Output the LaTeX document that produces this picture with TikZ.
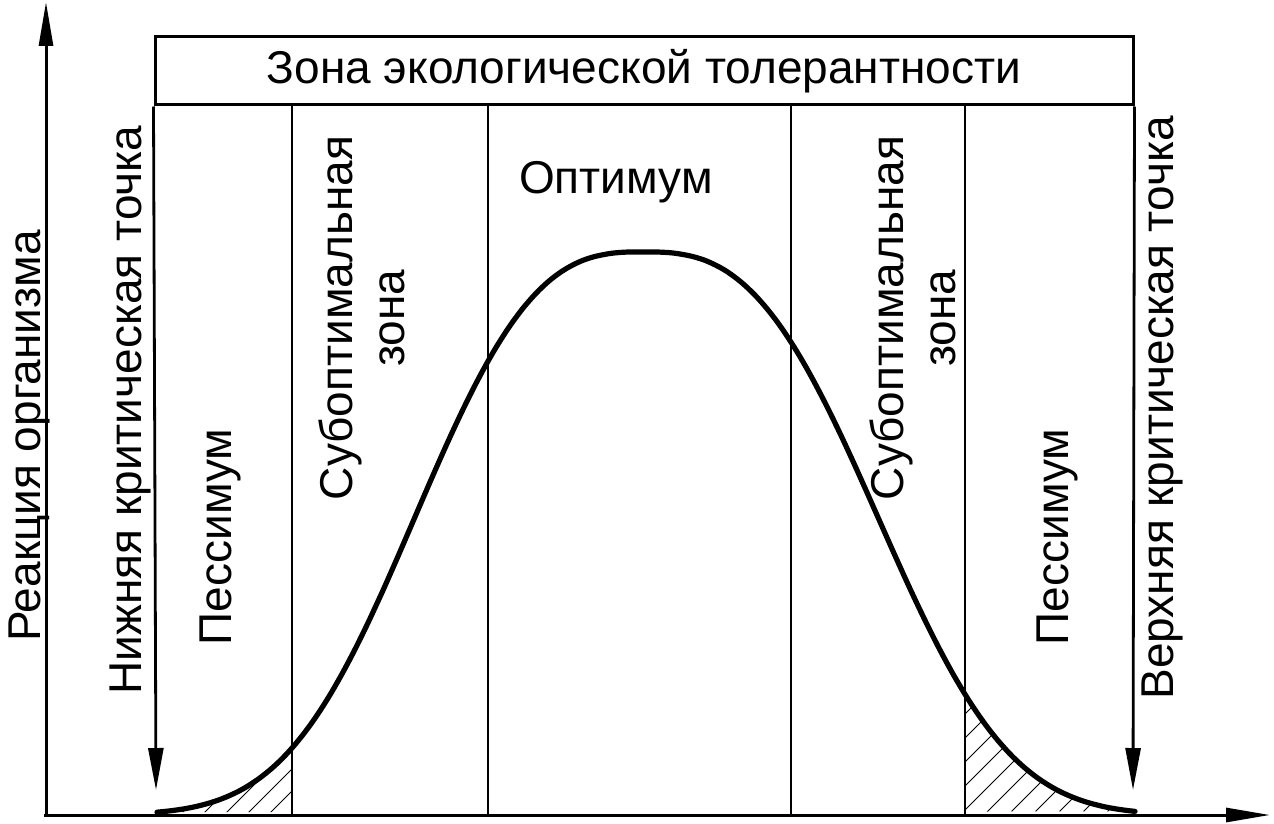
\documentclass[tikz,border=0pt]{standalone}
\usepackage{fontspec}
\setmainfont{Liberation Sans}
\usetikzlibrary{arrows.meta}
\begin{document}
\begin{tikzpicture}[x=0.5pt,y=-0.5pt,
  lbl/.style={font=\fontsize{23}{26}\selectfont, inner sep=0pt, align=center},
  vlbl/.style={lbl, rotate=90},
  axisline/.style={line width=1.5pt, -{Triangle[length=22pt,width=7pt]}},
  zline/.style={line width=1.4pt},
  crit/.style={line width=1.4pt, -{Triangle[length=21pt,width=7.5pt]}},
  bell/.style={line width=2.6pt, line join=round, line cap=round},
  hatchline/.style={line width=0.5pt}]

\useasboundingbox (0,0) rectangle (1274,824);

% curve path
\path[save path=\bellpath]
  plot[domain=157:643, samples=90, smooth] (\x, {815-563*exp(-((643-\x)/268)^2.8)})
  -- plot[domain=643:1135, samples=90, smooth] (\x, {815-563*exp(-((\x-643)/276)^2.8)});

% hatching
\begin{scope}
  \clip[use path=\bellpath];
  \clip (155,600) rectangle (292,815);
  \foreach \i in {0,...,8} \draw[hatchline] (158+\i*22,815) -- ++(200,-200);
\end{scope}
\begin{scope}
  \clip[use path=\bellpath];
  \clip (965,600) rectangle (1140,815);
  \foreach \i in {0,...,12} \draw[hatchline] (840+\i*24,815) -- ++(200,-200);
\end{scope}

% title box
\node[draw, line width=1.5pt, minimum width=489pt, minimum height=34pt,
      font=\fontsize{23}{26}\selectfont, inner sep=0pt] (title) at (644,71)
      {Зона экологической толерантности};

% coordinates
\coordinate (o) at (46,815);
\coordinate (ytop) at (46,2);
\coordinate (xo) at (44,815);
\coordinate (xend) at (1270,815);
\coordinate (lcrit) at (156,790);
\coordinate (rcrit) at (1133,790);
\coordinate (l1t) at (292,105); \coordinate (l1b) at (292,815);
\coordinate (l2t) at (488,105); \coordinate (l2b) at (488,815);
\coordinate (l3t) at (791,105); \coordinate (l3b) at (791,815);
\coordinate (l4t) at (965,105); \coordinate (l4b) at (965,815);

% axes
\draw[axisline] (o) -- (ytop);
\draw[axisline] (xo) -- (xend);

% zone lines
\draw[crit] (title.south west) -- (lcrit);
\draw[crit] (title.south east) -- (rcrit);
\draw[zline] (l1t) -- (l1b);
\draw[zline] (l2t) -- (l2b);
\draw[zline] (l3t) -- (l3b);
\draw[zline] (l4t) -- (l4b);

% curve
\draw[bell, use path=\bellpath];

% labels
\node[vlbl] (resp) at (29,436) {Реакция организма};
\node[vlbl] (lowcrit) at (130,410) {Нижняя критическая точка};
\node[vlbl] (pessl) at (220,537) {Пессимум};
\node[vlbl] (subl) at (362,318) {Субоптимальная\\зона};
\node[lbl] (opt) at (616,182) {Оптимум};
\node[vlbl] (subr) at (913,318) {Субоптимальная\\зона};
\node[vlbl] (pessr) at (1057,537) {Пессимум};
\node[vlbl] (upcrit) at (1162,408) {Верхняя критическая точка};
\end{tikzpicture}
\end{document}
